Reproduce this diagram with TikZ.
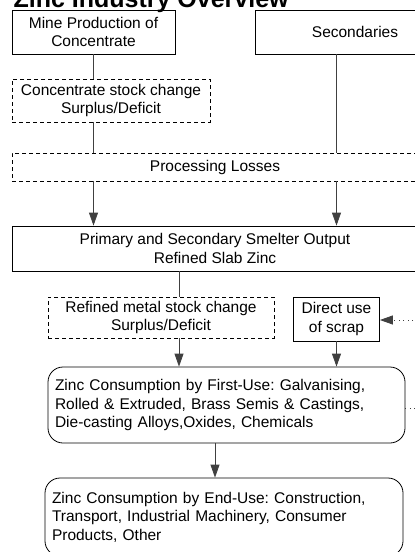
\documentclass[tikz,border=0pt]{standalone}
\usepackage{fontspec}
\setmainfont{Liberation Sans}
\frenchspacing
\usetikzlibrary{arrows.meta}

\begin{document}
\begin{tikzpicture}[x=1pt, y=-1pt,
		box/.style={draw=black, line width=0.8pt, inner sep=0pt, align=center},
		stockbox/.style={box, dash pattern=on 4pt off 3pt},
		usebox/.style={draw=black, line width=0.8pt, rounded corners=15pt, inner xsep=7pt, inner ysep=0pt, align=left},
		link/.style={draw=black!75, line width=0.8pt},
		arr/.style={link, -{Triangle[width=9pt, length=13pt]}},
		dotarr/.style={arr, dash pattern=on 1pt off 3.5pt},
		every node/.style={font=\fontsize{15.5}{18.5}\selectfont}]
			%%%%% START %%%%%
			
			\path[use as bounding box] (0, 0) rectangle (415, 552);
			\clip (0, 0) rectangle (415, 552);
			
			\node[anchor=base west, font=\fontsize{25}{30}\selectfont\bfseries] (title) at (10, 7) {Zinc Industry Overview};
			
			\node[box, minimum width=163, minimum height=44] (mine) at (93.5, 32) {Mine Production of\\Concentrate};
			\node[box, minimum width=200, minimum height=44] (sec) at (355, 32) {Secondaries};
			\node[stockbox, minimum width=198, minimum height=43] (cstock) at (111, 100.5) {Concentrate stock change\\Surplus/Deficit};
			\node[stockbox, minimum width=406, minimum height=28] (loss) at (215, 167) {Processing Losses};
			\node[box, minimum width=406, minimum height=45] (smelt) at (215, 248.5) {Primary and Secondary Smelter Output\\Refined Slab Zinc};
			
			\node[stockbox, minimum width=226, minimum height=41] (rstock) at (161, 317.5) {Refined metal stock change\\Surplus/Deficit};
			\node[box, minimum width=86, minimum height=44] (scrap) at (336.5, 319) {Direct use\\of scrap};
			
			\node[usebox, text width=343, minimum height=76] (first) at (226.5, 405) {Zinc Consumption by First-Use: Galvanising,\\Rolled \& Extruded, Brass Semis \& Castings,\\Die-casting Alloys,Oxides, Chemicals};
			\node[usebox, text width=344, minimum height=78] (enduse) at (224, 517) {Zinc Consumption by End-Use: Construction,\\Transport, Industrial Machinery, Consumer\\Products, Other};
			
			\coordinate (split) at (179, 0);
			\coordinate (scrapin) at (440, 320);
			\coordinate (firstout) at (440, 408);
			
			\draw[link] (mine.south) -- (cstock.north -| mine.south);
			\draw[link] (cstock.south -| mine.south) -- (loss.north -| mine.south);
			\draw[link] (sec.south -| scrap.south) -- (loss.north -| scrap.south);
			
			\draw[arr] (loss.south -| mine.south) -- (smelt.north -| mine.south);
			\draw[arr] (loss.south -| scrap.south) -- (smelt.north -| scrap.south);
			
			\draw[link] (smelt.south -| split) -- (rstock.north -| split);
			\draw[arr] (rstock.south -| split) -- (first.north -| split);
			\draw[arr] (scrap.south) -- (first.north -| scrap.south);
			\draw[dotarr] (scrapin) -- (scrap.east |- scrapin);
			\draw[link, dash pattern=on 1pt off 3.5pt] (first.east |- firstout) -- (firstout);
			
			\draw[arr] (first.south -| smelt.center) -- (enduse.north -| smelt.center);
			
			%%%%% END %%%%%
		\end{tikzpicture}
\end{document}
